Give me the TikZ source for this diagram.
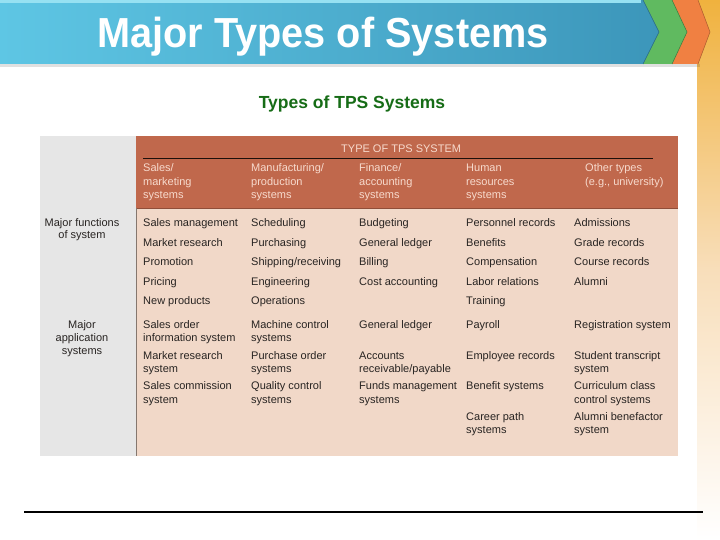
\documentclass[tikz,border=0pt]{standalone}
\usepackage{fontspec}
\setmainfont{Liberation Sans}
\definecolor{barL}{RGB}{94,198,228}
\definecolor{barR}{RGB}{60,150,186}
\definecolor{barTop}{RGB}{150,225,242}
\definecolor{chevG}{RGB}{96,186,96}
\definecolor{chevO}{RGB}{240,128,66}
\definecolor{stripY}{RGB}{240,178,62}
\definecolor{stripM}{RGB}{248,222,186}
\definecolor{hdr}{RGB}{192,104,76}
\definecolor{hdrtxt}{RGB}{247,218,205}
\definecolor{bodyc}{RGB}{241,216,200}
\definecolor{side}{RGB}{230,230,230}
\definecolor{subgreen}{RGB}{22,108,22}
\definecolor{celltxt}{RGB}{40,36,34}
\begin{document}
\begin{tikzpicture}[x=1pt,y=-1pt,
  cell/.style={anchor=base west, inner sep=0pt, font=\fontsize{11}{13}\selectfont, text=celltxt},
  hcell/.style={anchor=base west, inner sep=0pt, font=\fontsize{11}{13}\selectfont, text=hdrtxt},
  scell/.style={anchor=base, inner sep=0pt, font=\fontsize{11}{13}\selectfont, text=celltxt}]
\useasboundingbox (0,0) rectangle (720,540);
\fill[white] (0,0) rectangle (720,540);
% right strip
\shade[top color=stripY, bottom color=white, middle color=stripM] (697,0) rectangle (720,540);
% chevrons
\fill[black, opacity=0.12] (0,64) rectangle (700,67);
\fill[chevO] (655,0) -- (698,0) -- (710,32) -- (698,64) -- (655,64) -- cycle;
\draw[chevO!70!black, line width=0.5pt] (698,0) -- (710,32) -- (698,64);
\fill[chevG] (630,0) -- (672,0) -- (687,32) -- (672,64) -- (630,64) -- cycle;
\draw[chevG!65!black, line width=0.5pt] (672,0) -- (687,32) -- (672,64);
\shade[left color=barL, right color=barR] (0,0) -- (643,0) -- (659,32) -- (643,64) -- (0,64) -- cycle;
\fill[barTop] (0,0) rectangle (641,3);
\draw[barR!70!black, line width=0.5pt] (643,0) -- (659,32) -- (643,64);
\node[font=\bfseries\fontsize{42}{42}\selectfont, text=white, anchor=base, inner sep=0pt] (title) at (323,48) {\scalebox{0.945}[1]{Major Types of Systems}};
\node[font=\bfseries\fontsize{17.5}{18}\selectfont, text=subgreen, anchor=base, inner sep=0pt] (subtitle) at (352,109) {Types of TPS Systems};
% table
\fill[side] (40,136) rectangle (136,456);
\fill[hdr] (136,136) rectangle (678,208);
\fill[bodyc] (136,208) rectangle (678,456);
\draw[hdr!75!black, line width=0.6pt] (136,208) -- (678,208);
\draw[black!85!hdr, line width=0.6pt] (143,158) -- (653,158);
\draw[black!45!bodyc, line width=0.6pt] (136,208) -- (136,456);
% header text
\node[hcell] (ttype) at (341,153) {TYPE OF TPS SYSTEM};
\node[hcell] (h1a) at (143,172) {Sales/};
\node[hcell] (h1b) at (143,186) {marketing};
\node[hcell] (h1c) at (143,199) {systems};
\node[hcell] (h2a) at (251,172) {Manufacturing/};
\node[hcell] (h2b) at (251,186) {production};
\node[hcell] (h2c) at (251,199) {systems};
\node[hcell] (h3a) at (359,172) {Finance/};
\node[hcell] (h3b) at (359,186) {accounting};
\node[hcell] (h3c) at (359,199) {systems};
\node[hcell] (h4a) at (466,172) {Human};
\node[hcell] (h4b) at (466,186) {resources};
\node[hcell] (h4c) at (466,199) {systems};
\node[hcell] (h5a) at (585,172) {Other types};
\node[hcell] (h5b) at (585,186) {(e.g., university)};
% side labels
\node[scell] (s1a) at (82,226) {Major functions};
\node[scell] (s1b) at (82,239) {of system};
\node[scell] (s2a) at (82,328) {Major};
\node[scell] (s2b) at (82,341) {application};
\node[scell] (s2c) at (82,354) {systems};
% column 1
\node[cell] (a1) at (143,226) {Sales management};
\node[cell] (a2) at (143,246) {Market research};
\node[cell] (a3) at (143,265) {Promotion};
\node[cell] (a4) at (143,285) {Pricing};
\node[cell] (a5) at (143,304) {New products};
\node[cell] (a6) at (143,328) {Sales order};
\node[cell] (a6b) at (143,341) {information system};
\node[cell] (a7) at (143,359) {Market research};
\node[cell] (a7b) at (143,372) {system};
\node[cell] (a8) at (143,389) {Sales commission};
\node[cell] (a8b) at (143,403) {system};
% column 2
\node[cell] (b1) at (251,226) {Scheduling};
\node[cell] (b2) at (251,246) {Purchasing};
\node[cell] (b3) at (251,265) {Shipping/receiving};
\node[cell] (b4) at (251,285) {Engineering};
\node[cell] (b5) at (251,304) {Operations};
\node[cell] (b6) at (251,328) {Machine control};
\node[cell] (b6b) at (251,341) {systems};
\node[cell] (b7) at (251,359) {Purchase order};
\node[cell] (b7b) at (251,372) {systems};
\node[cell] (b8) at (251,389) {Quality control};
\node[cell] (b8b) at (251,403) {systems};
% column 3
\node[cell] (c1) at (359,226) {Budgeting};
\node[cell] (c2) at (359,246) {General ledger};
\node[cell] (c3) at (359,265) {Billing};
\node[cell] (c4) at (359,285) {Cost accounting};
\node[cell] (c6) at (359,328) {General ledger};
\node[cell] (c7) at (359,359) {Accounts};
\node[cell] (c7b) at (359,372) {receivable/payable};
\node[cell] (c8) at (359,389) {Funds management};
\node[cell] (c8b) at (359,403) {systems};
% column 4
\node[cell] (d1) at (466,226) {Personnel records};
\node[cell] (d2) at (466,246) {Benefits};
\node[cell] (d3) at (466,265) {Compensation};
\node[cell] (d4) at (466,285) {Labor relations};
\node[cell] (d5) at (466,304) {Training};
\node[cell] (d6) at (466,328) {Payroll};
\node[cell] (d7) at (466,359) {Employee records};
\node[cell] (d8) at (466,389) {Benefit systems};
\node[cell] (d9) at (466,420) {Career path};
\node[cell] (d9b) at (466,433) {systems};
% column 5
\node[cell] (e1) at (574,226) {Admissions};
\node[cell] (e2) at (574,246) {Grade records};
\node[cell] (e3) at (574,265) {Course records};
\node[cell] (e4) at (574,285) {Alumni};
\node[cell] (e6) at (574,328) {Registration system};
\node[cell] (e7) at (574,359) {Student transcript};
\node[cell] (e7b) at (574,372) {system};
\node[cell] (e8) at (574,389) {Curriculum class};
\node[cell] (e8b) at (574,403) {control systems};
\node[cell] (e9) at (574,420) {Alumni benefactor};
\node[cell] (e9b) at (574,433) {system};
% bottom rule
\draw[black, line width=1.3pt] (24,512) -- (703,512);
\end{tikzpicture}
\end{document}
